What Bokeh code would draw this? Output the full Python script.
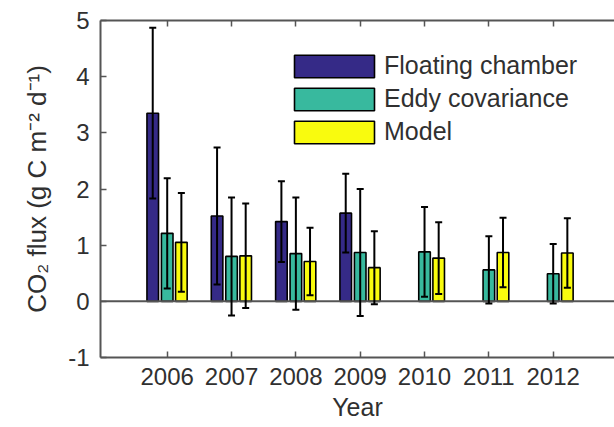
from bokeh.plotting import figure
from bokeh.models import (ColumnDataSource, Whisker, TeeHead, FixedTicker, LinearAxis,
                          Span, Legend, LegendItem, Range1d)
from bokeh.embed import file_html
from bokeh.resources import INLINE

# ---- data ----
years = [2006, 2007, 2008, 2009, 2010, 2011, 2012]
chamber_years = [2006, 2007, 2008, 2009]
chamber = [3.35, 1.52, 1.42, 1.57]
chamber_err = [1.52, 1.22, 0.72, 0.70]
eddy = [1.21, 0.80, 0.85, 0.87, 0.88, 0.56, 0.49]
eddy_err = [0.98, 1.05, 1.00, 1.13, 0.80, 0.60, 0.53]
model = [1.05, 0.81, 0.71, 0.60, 0.77, 0.87, 0.86]
model_err = [0.88, 0.93, 0.60, 0.65, 0.64, 0.62, 0.62]
series_names = ["Floating chamber", "Eddy covariance", "Model"]
y_ticks = [-1, 0, 1, 2, 3, 4, 5]
y_tick_labels = ["-1", "0", "1", "2", "3", "4", "5"]

# ---- styles ----
colors = ["#352A87", "#38B99E", "#F9FB0E"]
offsets = [-0.225, 0.0, 0.22]
bar_width = 0.18
FONT = "Liberation Sans"
TXT = "#303030"
AX = "#555555"

p = figure(width=614, height=427, output_backend="svg", toolbar_location=None,
           x_range=Range1d(2004.963, 2012.953), y_range=Range1d(-1, 5),
           min_border_left=100, min_border_right=0, min_border_top=20,
           min_border_bottom=70)
p.xgrid.visible = False
p.ygrid.visible = False
p.outline_line_color = None
p.background_fill_color = "white"
p.border_fill_color = "white"

series = [
    (chamber_years, chamber, chamber_err),
    (years, eddy, eddy_err),
    (years, model, model_err),
]

renderers = []
whiskers = []
for (xs, vals, errs), off, col in zip(series, offsets, colors):
    src = ColumnDataSource(dict(
        x=[x + off for x in xs],
        top=vals,
        upper=[v + e for v, e in zip(vals, errs)],
        lower=[v - e for v, e in zip(vals, errs)],
    ))
    r = p.vbar(x="x", top="top", bottom=0, width=bar_width, source=src,
               fill_color=col, line_color="black", line_width=1.6)
    renderers.append(r)
    w = Whisker(base="x", upper="upper", lower="lower", source=src,
                line_color="black", line_width=2, level="overlay",
                upper_head=TeeHead(size=7, line_color="black", line_width=2),
                lower_head=TeeHead(size=7, line_color="black", line_width=2))
    whiskers.append(w)

p.add_layout(Span(location=0, dimension="width", line_color=AX, line_width=2))
for w in whiskers:
    p.add_layout(w)

# bottom axis
xa = p.xaxis[0]
xa.ticker = FixedTicker(ticks=years)
xa.axis_label = "Year"
# left axis
ya = p.yaxis[0]
ya.ticker = FixedTicker(ticks=y_ticks)
ya.major_label_overrides = {t: s for t, s in zip(y_ticks, y_tick_labels)}
ya.axis_label = "CO\u2082 flux (g C m\u207b\u00b2 d\u207b\u00b9)"

for ax in (xa, ya):
    ax.axis_line_color = AX
    ax.axis_line_width = 2
    ax.major_tick_line_color = AX
    ax.major_tick_line_width = 1.5
    ax.major_tick_in = 6
    ax.major_tick_out = 0
    ax.minor_tick_line_color = None
    ax.major_label_text_font = FONT
    ax.major_label_text_font_size = "24px"
    ax.major_label_text_color = TXT
    ax.axis_label_text_font = FONT
    ax.axis_label_text_font_size = "25px"
    ax.axis_label_text_font_style = "normal"
    ax.axis_label_text_color = TXT

ya.axis_label_text_font_size = "26px"
xa.major_label_standoff = 10
xa.axis_label_standoff = 5
ya.major_label_standoff = 11
ya.axis_label_standoff = 13

# top axis (box line with inward ticks, no labels)
top = LinearAxis(ticker=FixedTicker(ticks=years),
                 major_label_overrides={y: "" for y in years},
                 major_label_text_font_size="1px", major_label_standoff=0,
                 axis_line_color=AX, axis_line_width=2,
                 major_tick_line_color=AX, major_tick_line_width=1.5,
                 major_tick_in=6, major_tick_out=0, minor_tick_line_color=None)
p.add_layout(top, "above")

legend = Legend(items=[LegendItem(label=n, renderers=[r]) for n, r in zip(series_names, renderers)],
                location=(184, 211), orientation="vertical",
                glyph_width=100, glyph_height=28, label_height=28, label_standoff=-2,
                spacing=4, padding=0, margin=0,
                border_line_color=None, background_fill_alpha=0,
                label_text_font=FONT, label_text_font_size="25px", label_text_color=TXT)
p.add_layout(legend)

open("out.html", "w").write(file_html(p, INLINE))
